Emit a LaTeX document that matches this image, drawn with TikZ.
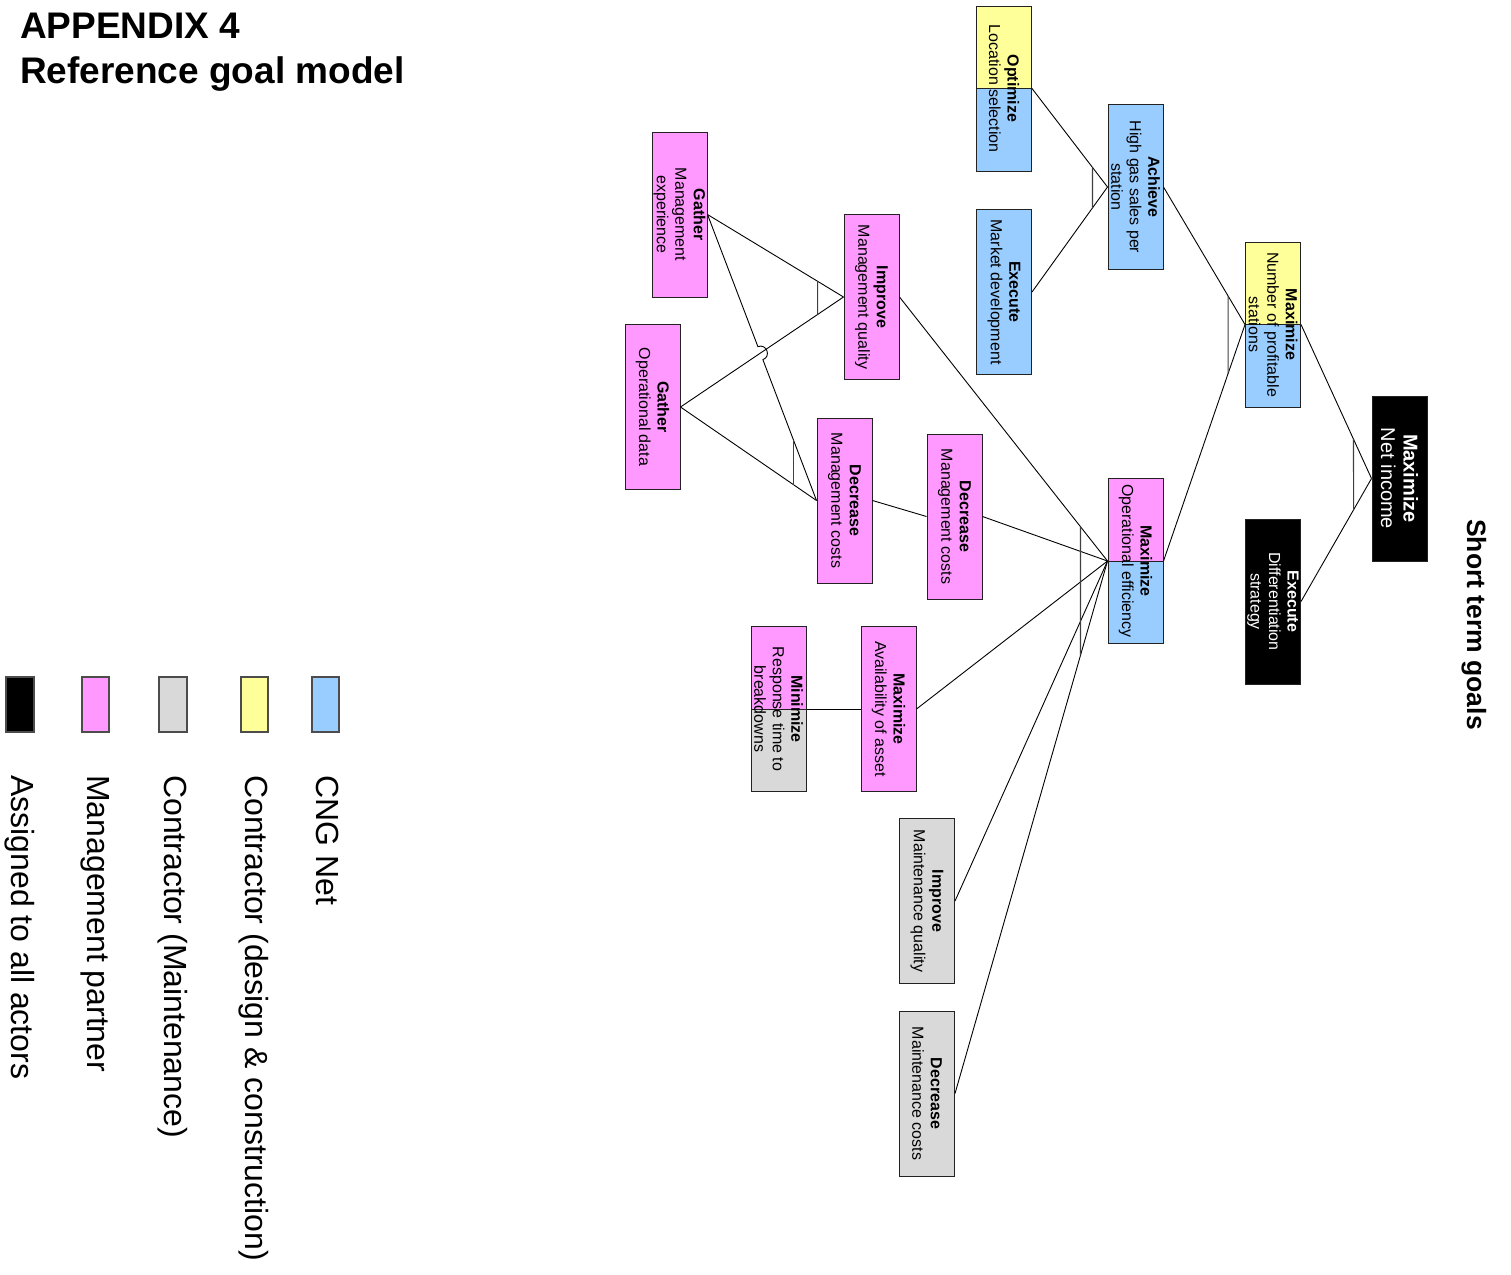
\documentclass[tikz,border=0pt]{standalone}
\usepackage{fontspec}
\setmainfont{Liberation Sans}
\usetikzlibrary{calc,backgrounds}

\definecolor{cngblue}{HTML}{99CCFF}
\definecolor{ctryellow}{HTML}{FFFF99}
\definecolor{mgmtpink}{HTML}{FF99FF}
\definecolor{maintgray}{HTML}{D9D9D9}
\definecolor{boxedge}{HTML}{222222}

% two-coloured goal: upper half #2, lower half #3, with a dividing rule
\newcommand\splitfill[3]{%
  \fill[#2] (#1.north west) rectangle (#1.south);
  \fill[#3] (#1.north) rectangle (#1.south east);
  \draw[splitline] (#1.north) -- (#1.south);}

% AND-decomposition bar: parent #1, outermost children #2 and #3, offset #4 from the parent
\newcommand\andbar[4]{%
  \coordinate (abA) at ($(#1.south)+(-#4,0)$);
  \coordinate (abB) at ($(#1.south)+(-#4,50)$);
  \draw[andline] (intersection of #2.north--#1.south and abA--abB)
              -- (intersection of #3.north--#1.south and abA--abB);}

\begin{document}
\begin{tikzpicture}[x=1bp,y=-1bp,
  goal/.style={draw=boxedge, line width=1bp, rotate=-90,
    minimum width=165bp, minimum height=55bp, inner sep=0pt,
    align=center, font=\fontsize{16bp}{18.5bp}\selectfont},
  conn/.style={draw=black, line width=0.9bp},
  andline/.style={draw=black!75, line width=1.1bp},
  splitline/.style={draw=boxedge, line width=1bp},
  legendbox/.style={draw=black!70, line width=1.1bp},
  legendtext/.style={rotate=-90, anchor=base west, inner sep=0pt,
    font=\fontsize{32bp}{36bp}\selectfont},
  titletext/.style={anchor=base west, inner sep=0pt,
    font=\bfseries\fontsize{37bp}{44bp}\selectfont},
]
\useasboundingbox (0,0) rectangle (1511,1274);

% heading
\node[titletext] (head1) at (20,38) {APPENDIX 4};
\node[titletext] (head2) at (20,83) {Reference goal model};
\node[rotate=-90, anchor=base west, inner sep=0pt,
      font=\bfseries\fontsize{26.5bp}{30bp}\selectfont] (horizon) at (1467,519) {Short term goals};

% legend
\draw[legendbox, fill=cngblue]   (312,677) rectangle (339,732);
\draw[legendbox, fill=ctryellow] (241,677) rectangle (268,732);
\draw[legendbox, fill=maintgray] (159,677) rectangle (187,732);
\draw[legendbox, fill=mgmtpink]  (82,677)  rectangle (109,732);
\draw[legendbox, fill=black]     (6,677)   rectangle (34,732);
\node[legendtext] (lg1) at (316,775) {CNG Net};
\node[legendtext] (lg2) at (245,775) {Contractor (design \& construction)};
\node[legendtext] (lg3) at (164,775) {Contractor (Maintenance)};
\node[legendtext] (lg4) at (87,775)  {Management partner};
\node[legendtext] (lg5) at (11,775)  {Assigned to all actors};

% goals
\node[goal] (opt) at (1004,88.5) {\textbf{Optimize}\\Location selection};
\node[goal, fill=cngblue] (ach) at (1135.5,187) {\textbf{Achieve}\\High gas sales per\\station};
\node[goal, fill=cngblue] (mkt) at (1004,292) {\textbf{Execute}\\Market development};
\node[goal, fill=mgmtpink] (gme) at (679.5,214.5) {\textbf{Gather}\\Management\\experience};
\node[goal, fill=mgmtpink] (god) at (652.5,407) {\textbf{Gather}\\Operational data};
\node[goal, fill=mgmtpink] (imq) at (871.5,297) {\textbf{Improve}\\Management quality};
\node[goal, fill=mgmtpink] (dmc1) at (844.5,500.5) {\textbf{Decrease}\\Management costs};
\node[goal, fill=mgmtpink] (dmc2) at (954.5,516.5) {\textbf{Decrease}\\Management costs};
\node[goal] (moe) at (1135.5,561) {\textbf{Maximize}\\Operational efficiency};
\node[goal] (mrt) at (778.5,709) {\textbf{Minimize}\\Response time to\\breakdowns};
\node[goal, fill=mgmtpink] (mav) at (888.5,709) {\textbf{Maximize}\\Availability of asset};
\node[goal, fill=maintgray] (imtq) at (927,901) {\textbf{Improve}\\Maintenance quality};
\node[goal, fill=maintgray] (dmtc) at (927,1093.5) {\textbf{Decrease}\\Maintenance costs};
\node[goal] (nps) at (1273,324.5) {\textbf{Maximize}\\Number of profitable\\stations};
\node[goal, fill=black, text=white, font=\fontsize{20bp}{22.5bp}\selectfont] (ni) at (1399.5,478.5) {\textbf{Maximize}\\Net income};
\node[goal, fill=black, text=white] (eds) at (1273,601.5) {\textbf{Execute}\\Differentiation\\strategy};

\begin{scope}[on background layer]
  \splitfill{opt}{ctryellow}{cngblue}
  \splitfill{moe}{mgmtpink}{cngblue}
  \splitfill{mrt}{mgmtpink}{maintgray}
  \splitfill{nps}{ctryellow}{cngblue}
\end{scope}

% decomposition links
\draw[conn] (opt.north) -- (ach.south);
\draw[conn] (mkt.north) -- (ach.south);
\draw[conn] (ach.north) -- (nps.south);
\draw[conn] (moe.north) -- (nps.south);
\draw[conn] (nps.north) -- (ni.south);
\draw[conn] (eds.north) -- (ni.south);
\draw[conn] (gme.north) -- (imq.south);
\draw[conn] (god.north) -- (imq.south);
\draw[conn] (god.north) -- (dmc1.south);
\draw[conn] (dmc1.north) -- (dmc2.south);
\draw[conn] (imq.north) -- (moe.south);
\draw[conn] (dmc2.north) -- (moe.south);
\draw[conn] (mav.north) -- (moe.south);
\draw[conn] (imtq.north) -- (moe.south);
\draw[conn] (dmtc.north) -- (moe.south);
\draw[conn] (mrt.north) -- (mav.south);

% link with a line hop where it crosses the data link
\coordinate (hopX) at (intersection of gme.north--dmc1.south and god.north--imq.south);
\coordinate (hopA) at ($(hopX)!7bp!(gme.north)$);
\coordinate (hopB) at ($(hopX)!7bp!(dmc1.south)$);
\draw[conn] (gme.north) -- (hopA)
  .. controls ($(hopA)!9.3bp!90:(hopX)$) and ($(hopB)!9.3bp!-90:(hopX)$) .. (hopB)
  -- (dmc1.south);

% AND bars
\andbar{ach}{opt}{mkt}{15}
\andbar{nps}{ach}{moe}{17}
\andbar{ni}{nps}{eds}{18}
\andbar{imq}{gme}{god}{26}
\andbar{dmc1}{gme}{god}{23}
\andbar{moe}{imq}{dmtc}{27}

\end{tikzpicture}
\end{document}
